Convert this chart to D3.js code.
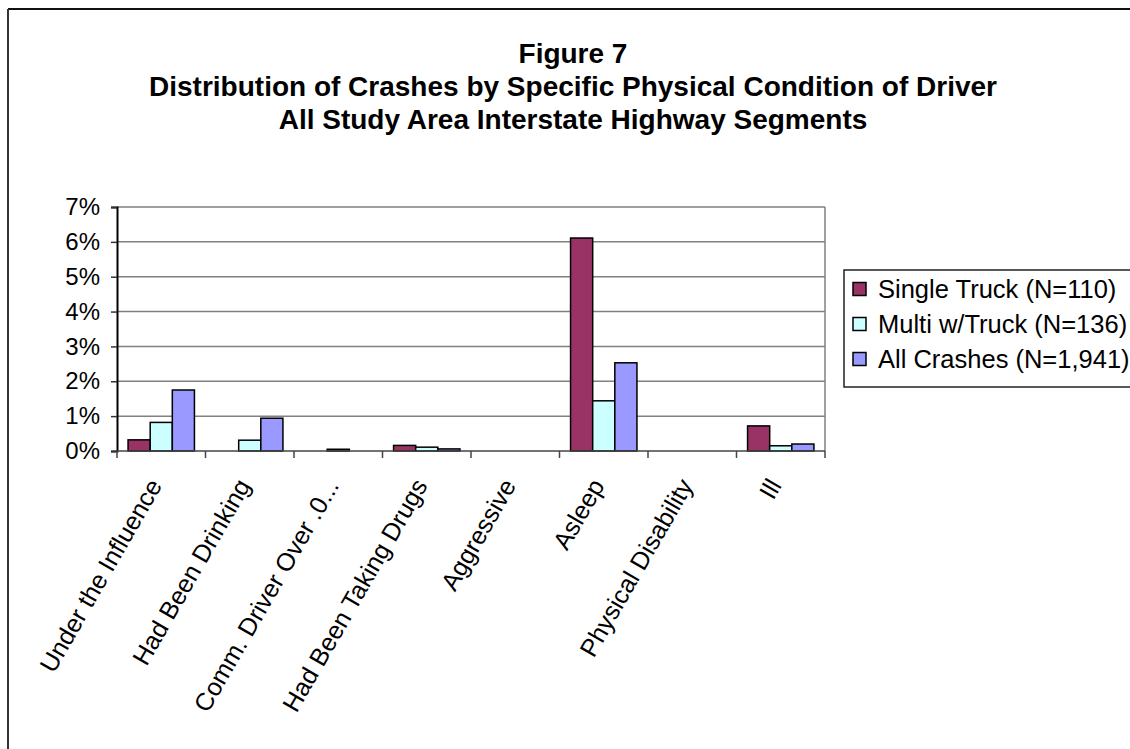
<!DOCTYPE html>
<html>
<head>
<script src="https://cdn.jsdelivr.net/npm/d3@7"></script>
<style>
    body { margin: 0; background: #fff; }
    svg text { font-family: Arial, "Liberation Sans", sans-serif; fill: #000; }
</style>
</head>
<body>
<svg width="1130" height="749"></svg>
<script>
    // chart data
    var categories = ["Under the Influence", "Had Been Drinking", "Comm. Driver Over .0...",
        "Had Been Taking Drugs", "Aggressive", "Asleep", "Physical Disability", "Ill"];
    var seriesNames = ["Single Truck (N=110)", "Multi w/Truck (N=136)", "All Crashes (N=1,941)"];
    var singleTruck = [0.32, 0, 0, 0.16, 0, 6.11, 0, 0.72];
    var multiTruck = [0.82, 0.31, 0.05, 0.11, 0, 1.44, 0, 0.15];
    var allCrashes = [1.75, 0.94, 0, 0.06, 0, 2.53, 0, 0.20];
    var yTicks = [0, 1, 2, 3, 4, 5, 6, 7];
    var titleLines = ["Figure 7",
        "Distribution of Crashes by Specific Physical Condition of Driver",
        "All Study Area Interstate Highway Segments"];
    var colors = ["#993366", "#CCFFFF", "#9999FF"];

    var seriesValues = [singleTruck, multiTruck, allCrashes];

    var svg = d3.select("svg");
    var plotLeft = 117, plotRight = 825, plotTop = 207, plotBottom = 451;

    var x = d3.scaleBand().domain(categories).range([plotLeft, plotRight]);
    var xs = d3.scaleBand().domain(d3.range(3)).range([0, x.bandwidth()]).paddingOuter(0.5).paddingInner(0);
    var y = d3.scaleLinear().domain([0, 7]).range([plotBottom, plotTop]);

    // outer frame
    svg.append("line").attr("x1", 8).attr("x2", 1130).attr("y1", 9).attr("y2", 9)
        .attr("stroke", "#111").attr("stroke-width", 2);
    svg.append("line").attr("x1", 8).attr("x2", 8).attr("y1", 9).attr("y2", 749)
        .attr("stroke", "#333").attr("stroke-width", 2);

    // title
    svg.selectAll(".title").data(titleLines).enter().append("text")
        .attr("class", "title")
        .attr("x", 573)
        .attr("y", function(d, i) { return 63 + i * 33; })
        .attr("text-anchor", "middle")
        .style("font-weight", "bold")
        .style("font-size", "28px")
        .text(function(d) { return d; });

    // gridlines
    svg.append("g").selectAll("line").data(yTicks.slice(1)).enter().append("line")
        .attr("x1", plotLeft).attr("x2", plotRight)
        .attr("y1", function(d) { return y(d); }).attr("y2", function(d) { return y(d); })
        .attr("stroke", "#808080").attr("stroke-width", 1.5);
    svg.append("line").attr("x1", plotRight).attr("x2", plotRight).attr("y1", plotTop).attr("y2", plotBottom)
        .attr("stroke", "#808080").attr("stroke-width", 1.5);

    // bars
    seriesValues.forEach(function(vals, s) {
        svg.append("g").selectAll("rect").data(vals).enter().append("rect")
            .attr("x", function(d, i) { return x(categories[i]) + xs(s); })
            .attr("y", function(d) { return y(d); })
            .attr("width", xs.bandwidth())
            .attr("height", function(d) { return plotBottom - y(d); })
            .attr("fill", colors[s])
            .attr("stroke", "#000")
            .attr("stroke-width", 1.5)
            .style("display", function(d) { return d > 0 ? null : "none"; });
    });

    // y axis
    var yAxis = svg.append("g").attr("transform", "translate(" + plotLeft + ",0)")
        .call(d3.axisLeft(y).tickValues(yTicks).tickSize(6).tickPadding(11)
            .tickFormat(function(d) { return d + "%"; }));
    yAxis.select(".domain").attr("stroke", "#000").attr("stroke-width", 2);
    yAxis.selectAll(".tick line").attr("stroke", "#333").attr("stroke-width", 1.5);
    yAxis.selectAll(".tick text").style("font-size", "24px").style("font-family", "Arial, 'Liberation Sans', sans-serif");

    // x axis with ticks on category boundaries
    svg.append("line").attr("x1", plotLeft).attr("x2", plotRight).attr("y1", plotBottom).attr("y2", plotBottom)
        .attr("stroke", "#444").attr("stroke-width", 1.5);
    var bounds = categories.map(function(c) { return x(c); }).concat([plotRight]);
    svg.append("g").selectAll("line").data(bounds).enter().append("line")
        .attr("x1", function(d) { return d; }).attr("x2", function(d) { return d; })
        .attr("y1", plotBottom).attr("y2", plotBottom + 7)
        .attr("stroke", "#444").attr("stroke-width", 1.5);

    svg.append("g").selectAll("text").data(categories).enter().append("text")
        .attr("transform", function(d) {
            return "translate(" + (x(d) + x.bandwidth() / 2 - 6) + "," + (plotBottom + 30) + ") rotate(-60)";
        })
        .attr("text-anchor", "end")
        .attr("dy", "0.35em")
        .style("font-size", "25px")
        .text(function(d) { return d; });

    // legend (box runs past the right edge of the picture)
    var lg = svg.append("g");
    lg.append("rect").attr("x", 844).attr("y", 270).attr("width", 300).attr("height", 117)
        .attr("fill", "#fff").attr("stroke", "#222").attr("stroke-width", 1.5);
    var rows = lg.selectAll(".row").data(seriesNames).enter().append("g")
        .attr("transform", function(d, i) { return "translate(853," + (289 + i * 35) + ")"; });
    rows.append("rect").attr("x", 0).attr("y", -6.5).attr("width", 13).attr("height", 13)
        .attr("fill", function(d, i) { return colors[i]; })
        .attr("stroke", "#000").attr("stroke-width", 1.5);
    rows.append("text").attr("x", 25).attr("dy", "0.35em")
        .style("font-size", "25.5px")
        .text(function(d) { return d; });
</script>
</body>
</html>
